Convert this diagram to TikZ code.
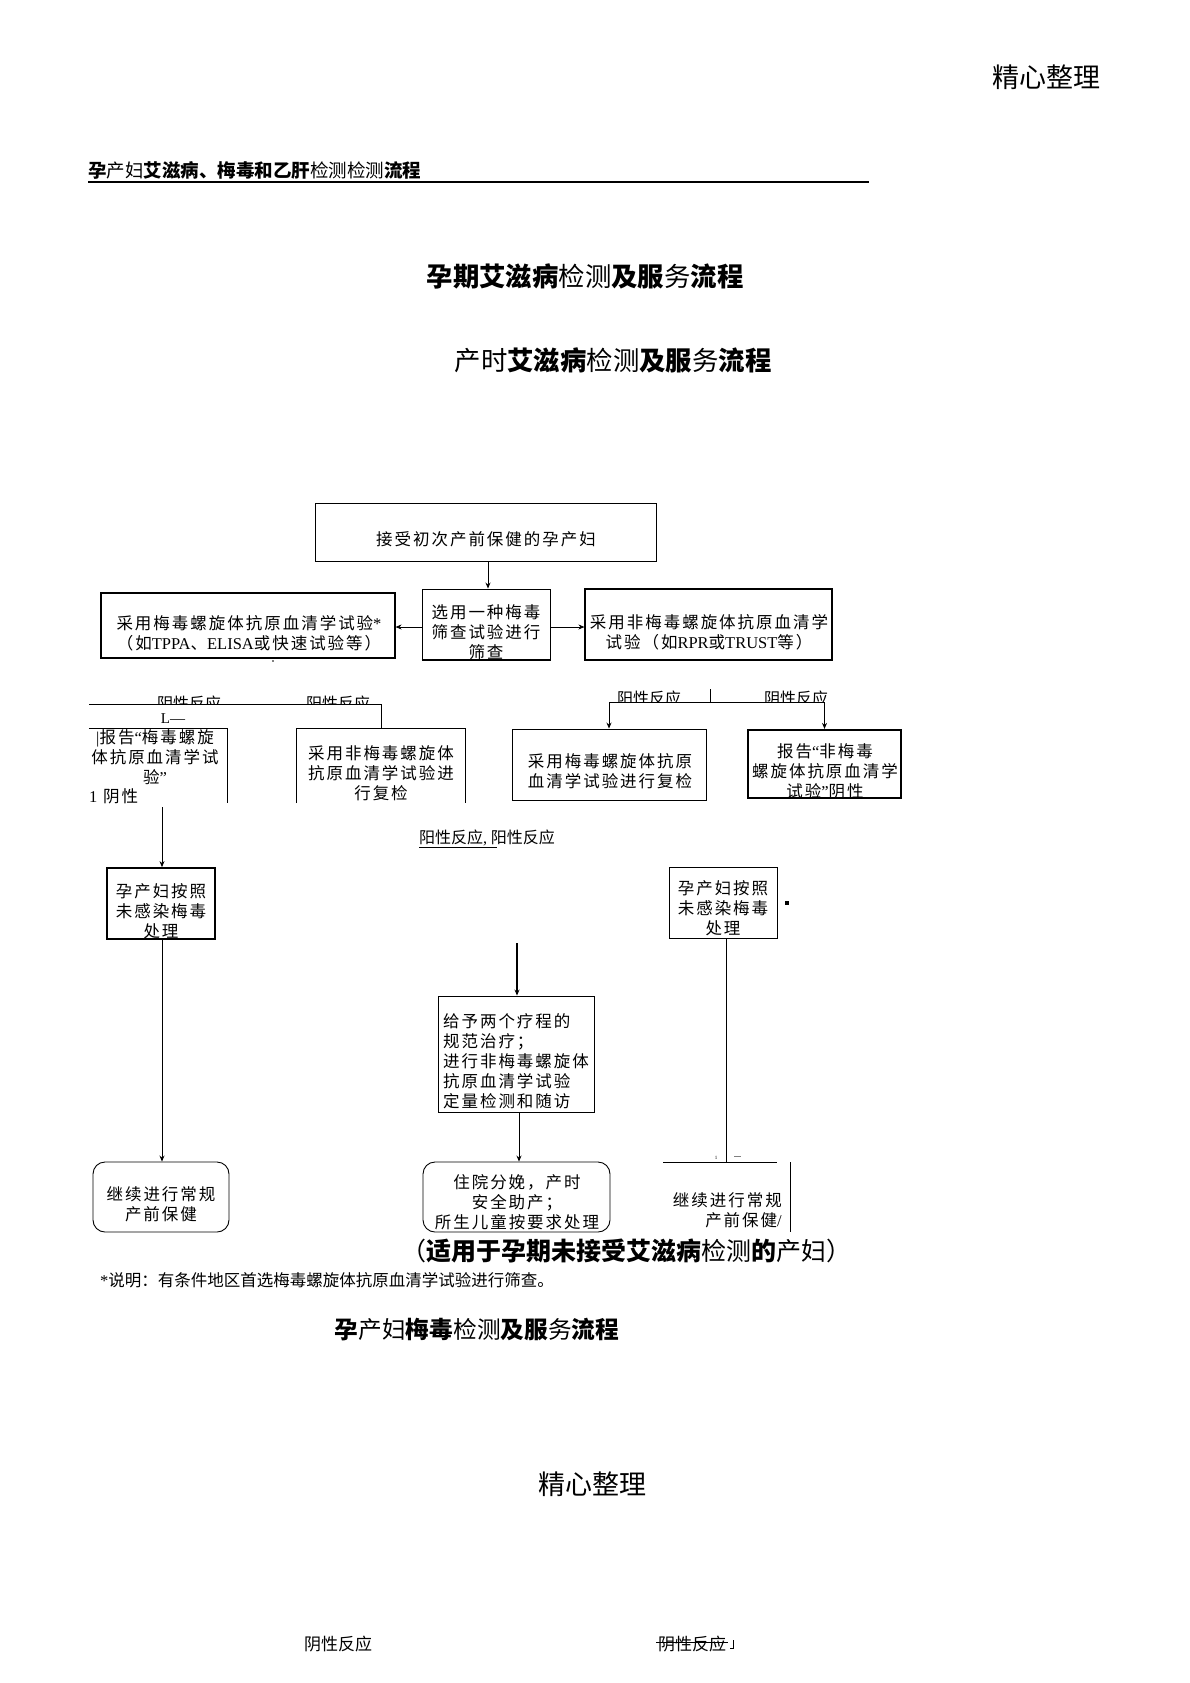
\documentclass[tikz,border=0pt]{standalone}
\usepackage{fontspec}
\usetikzlibrary{arrows.meta}
\newfontfamily\cjk{Noto Sans CJK SC}
\newfontfamily\cjksp[LetterSpace=12]{Noto Sans CJK SC}
\newfontfamily\lat{Liberation Serif}
\newcommand\bxfont{\cjksp\fontsize{16.5}{20}\selectfont}
\newcommand\lblfont{\cjk\fontsize{16}{16}\selectfont}
\newcommand\myLq{{\lat “}}
\newcommand\myRq{{\lat ”}}
\tikzset{
  bx/.style={draw, line width=0.9pt, inner sep=0pt},
  rbx/.style={draw, line width=0.9pt, inner sep=0pt, rounded corners=12pt},
  txt/.style={font=\bxfont, align=center, inner sep=0pt},
  txtl/.style={font=\bxfont, align=left, inner sep=0pt},
  lbl/.style={font=\lblfont, inner sep=0pt},
  ln/.style={line width=0.8pt},
  arr/.style={line width=0.8pt, -{Stealth[length=6pt,width=5pt]}},
}
\begin{document}
\begin{tikzpicture}[x=1pt,y=-1pt]
\fill[white] (0,0) rectangle (1190,1683);
\useasboundingbox (0,0) rectangle (1190,1683);

% headers
\node[font=\cjk\fontsize{27}{27}\selectfont, inner sep=0pt] (hd1) at (1046,77) {精心整理};
\node[anchor=west, font=\cjk\fontsize{18.5}{18.5}\selectfont, inner sep=0pt] (hd2) at (88,170)
  {{\bfseries 孕}产妇{\bfseries 艾滋病、梅毒和乙肝}检测检测{\bfseries 流程}};
\coordinate (ul1) at (88,182); \coordinate (ul2) at (869,182);
\draw[line width=1.2pt] (ul1) -- (ul2);
\node[font=\cjk\fontsize{26.4}{26.4}\selectfont, inner sep=0pt] (t1) at (585,276)
  {{\bfseries 孕期艾滋病}检测{\bfseries 及服}务{\bfseries 流程}};
\node[font=\cjk\fontsize{26.4}{26.4}\selectfont, inner sep=0pt] (t2) at (613,360)
  {产时{\bfseries 艾滋病}检测{\bfseries 及服}务{\bfseries 流程}};

% top row
\node[bx, minimum width=341pt, minimum height=58pt] (A) at (485.5,532) {};
\node[txt] (At) at (486,539) {接受初次产前保健的孕产妇};
\node[bx, minimum width=128pt, minimum height=71pt] (B) at (486,624.5) {};
\draw[line width=2pt] (B.south west) -- (B.south east);
\node[txt] (Bt) at (486,632) {选用一种梅毒\\筛查试验进行\\筛查};
\node[bx, line width=1.1pt, minimum width=294pt, minimum height=65pt] (C) at (248,625.5) {};
\node[txt] (Ct) at (249,633) {采用梅毒螺旋体抗原血清学试验{\lat *}\\（如{\lat TPPA}、{\lat ELISA}或快速试验等）};
\node[bx, line width=1.1pt, minimum width=247pt, minimum height=71pt] (D) at (708.5,624.5) {};
\node[txt] (Dt) at (709,632) {采用非梅毒螺旋体抗原血清学\\试验（如{\lat RPR}或{\lat TRUST}等）};
\draw[arr] (A.south -| 488,0) -- (B.north -| 488,0);
\draw[arr] (B.west |- 0,627) -- (C.east |- 0,627);
\draw[arr] (B.east |- 0,627) -- (D.west |- 0,627);
\fill (273,661) circle (0.9pt);

% left branch labels (clipped by line)
\begin{scope}
\clip (80,680) rectangle (400,703.5);
\node[lbl] (L1) at (189,703) {阴性反应};
\node[lbl] (L2) at (338,703) {阳性反应};
\end{scope}
\node[font=\lat\fontsize{15}{15}\selectfont, inner sep=0pt] (Lmark) at (173,719) {L—};

\node[minimum width=168pt, minimum height=74pt, inner sep=0pt] (E) at (381,766) {};
\draw[ln] (E.south west) |- (E.north east) -- (E.south east);
\node[txt] (Et) at (381,773.5) {采用非梅毒螺旋体\\抗原血清学试验进\\行复检};
\node[minimum width=138pt, minimum height=74pt, inner sep=0pt] (F) at (158,766) {};
\draw[ln] (F.north west) -- (F.north east) -- (F.south east);
\node[txt] (Ft) at (155,757) {{\lat |}报告\myLq 梅毒螺旋\\体抗原血清学试\\验\myRq};
\node[anchor=west, font=\bxfont, inner sep=0pt] (Fn) at (89,796) {{\lat 1} 阴性};
\coordinate (hl) at (89,704);
\draw[ln] (hl) -| (E.north);

% left column
\node[bx, line width=1.8pt, minimum width=108pt, minimum height=71pt] (G) at (161,903.5) {};
\node[txt] (Gt) at (161,911) {孕产妇按照\\未感染梅毒\\处理};
\coordinate (gs) at (162,807);
\draw[arr] (gs) -- (gs |- G.north);
\node[rbx, minimum width=136pt, minimum height=70pt] (H) at (161,1197) {};
\node[txt] (Ht) at (161,1204) {继续进行常规\\产前保健};
\draw[arr] (G.south -| gs) -- (H.north -| gs);

% right branch
\begin{scope}
\clip (560,680) rectangle (900,701.5);
\node[lbl] (R1) at (649,698) {阳性反应};
\node[lbl] (R2) at (796,698) {阴性反应};
\end{scope}
\node[bx, minimum width=194pt, minimum height=71pt] (K) at (609,764.5) {};
\node[txt] (Kt) at (610,771.5) {采用梅毒螺旋体抗原\\血清学试验进行复检};
\node[bx, line width=2.2pt, minimum width=153pt, minimum height=68pt] (L) at (824.5,764) {};
\node[txt] (Lt) at (825,771) {报告\myLq 非梅毒\\螺旋体抗原血清学\\试验\myRq 阴性};
\coordinate (rc) at (718,702);
\draw[arr] (rc) -| (K.north);
\draw[arr] (rc) -| (L.north);
\coordinate (tk1) at (710,689); \coordinate (tk2) at (710,702);
\draw[ln] (tk1) -- (tk2);

% middle column
\node[anchor=west, font=\lblfont, inner sep=0pt] (mid) at (419,838) {阳性反应{\lat ,} 阳性反应};
\coordinate (mu1) at (419,847); \coordinate (mu2) at (497,847);
\draw[ln] (mu1) -- (mu2);
\node[bx, minimum width=156pt, minimum height=116pt] (I) at (516,1054) {};
\node[txtl] (It) at (516,1061) {给予两个疗程的\\规范治疗；\\进行非梅毒螺旋体\\抗原血清学试验\\定量检测和随访};
\coordinate (is) at (517,943);
\draw[arr, line width=1.5pt] (is) -- (is |- I.north);
\node[rbx, minimum width=187pt, minimum height=70pt] (J) at (516.5,1197) {};
\node[txt] (Jt) at (517,1202.5) {住院分娩，产时\\安全助产；\\所生儿童按要求处理};
\draw[arr] (I.south -| 519,0) -- (J.north -| 519,0);

% right column
\node[bx, minimum width=108pt, minimum height=71pt] (M) at (723,902.5) {};
\node[txt] (Mt) at (723,908) {孕产妇按照\\未感染梅毒\\处理};
\fill (785,901) rectangle (789,905);
\coordinate (mb) at (726,1162);
\draw[ln] (M.south -| mb) -- (mb);
\coordinate (hb1) at (663,1162); \coordinate (hb2) at (777,1162);
\draw[ln] (hb1) -- (hb2);
\coordinate (vb1) at (790,1162); \coordinate (vb2) at (790,1232);
\draw[ln] (vb1) -- (vb2);
\node[font=\lat\fontsize{5}{5}\selectfont, inner sep=0pt] (sm1) at (716,1158) {1};
\coordinate (sd1) at (734,1156); \coordinate (sd2) at (741,1156);
\draw[line width=0.5pt, gray] (sd1) -- (sd2);
\node[anchor=east, font=\bxfont, align=right, inner sep=0pt] (N) at (782,1210) {继续进行常规\\产前保健{\lat /}};

% bottom notes
\node[font=\cjk\fontsize{25}{25}\selectfont, inner sep=0pt] (n1) at (626,1251)
  {（{\bfseries 适用于孕期未接受艾滋病}检测{\bfseries 的}产妇）};
\node[anchor=west, font=\cjk\fontsize{16.5}{16.5}\selectfont, inner sep=0pt] (n2) at (100,1280)
  {{\lat *}说明：有条件地区首选梅毒螺旋体抗原血清学试验进行筛查。};
\node[font=\cjk\fontsize{23.7}{23.7}\selectfont, inner sep=0pt] (t3) at (477,1330)
  {{\bfseries 孕}产妇{\bfseries 梅毒}检测{\bfseries 及服}务{\bfseries 流程}};
\node[font=\cjk\fontsize{27}{27}\selectfont, inner sep=0pt] (hd3) at (592,1484) {精心整理};
\node[lbl, font=\cjk\fontsize{17}{17}\selectfont] (b1) at (338,1644) {阴性反应};
\node[lbl, font=\cjk\fontsize{17}{17}\selectfont] (b2) at (692,1644) {阴性反应};
\coordinate (st1) at (656,1642); \coordinate (st2) at (728,1642);
\draw[line width=1pt] (st1) -- (st2);
\coordinate (cm1) at (733,1640); \coordinate (cm2) at (733,1648);
\draw[line width=0.7pt] (cm1) -- (cm2) -- ++(-3,0);
\end{tikzpicture}
\end{document}
